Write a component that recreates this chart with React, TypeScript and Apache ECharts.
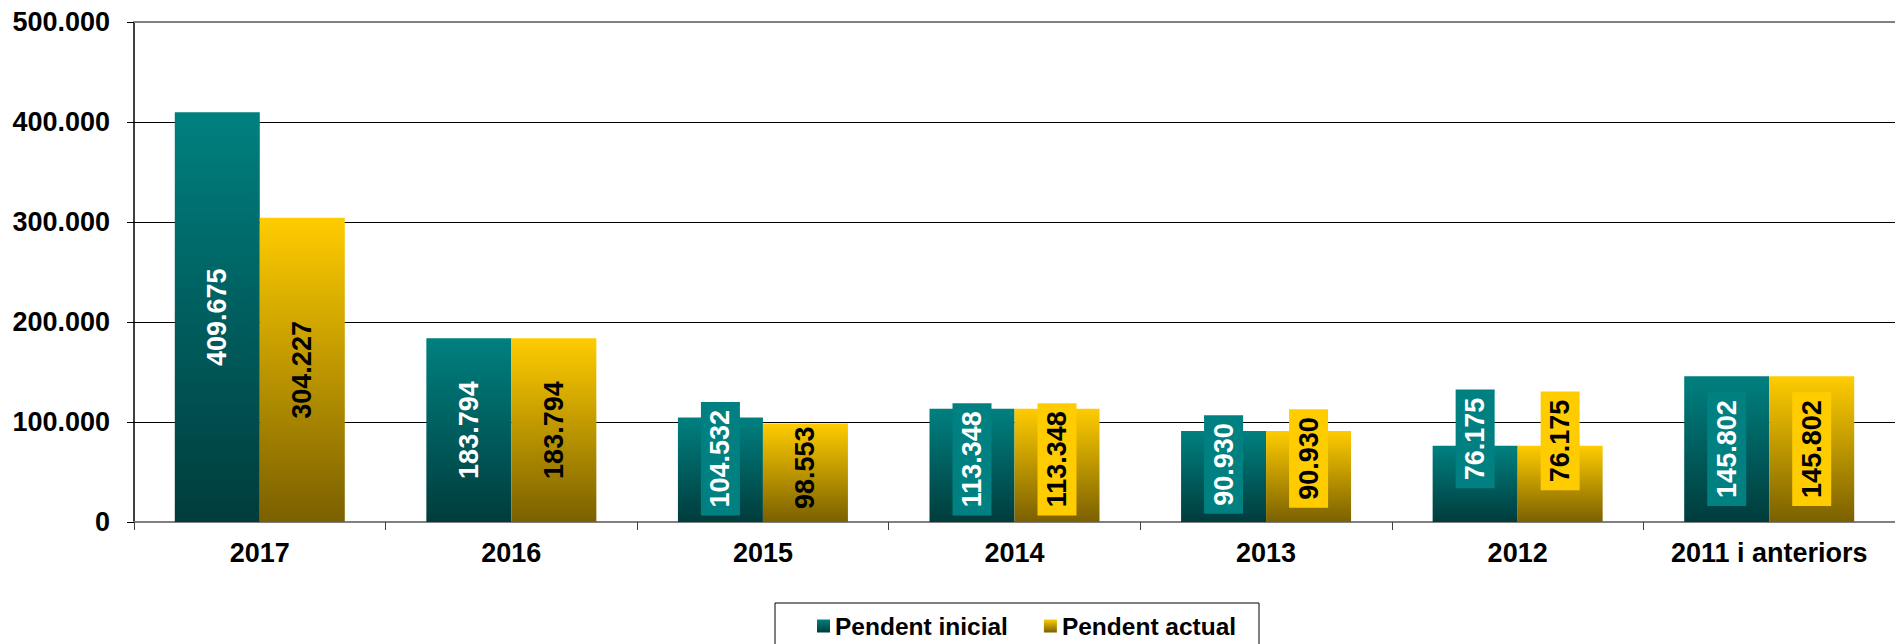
import React, { useEffect, useRef } from "react";
import * as echarts from "echarts";

const categories = ["2017", "2016", "2015", "2014", "2013", "2012", "2011 i anteriors"];
const pendentInicial = [409675, 183794, 104532, 113348, 90930, 76175, 145802];
const pendentActual = [304227, 183794, 98553, 113348, 90930, 76175, 145802];
const seriesNames = ["Pendent inicial", "Pendent actual"];
const yTicks = { min: 0, max: 500000, interval: 100000 };

// label styling (not data): which labels have a filled box, and how far (px) each label is lifted
const inicialBoxed = [false, false, true, true, true, true, true];
const actualBoxed = [false, false, false, true, true, true, true];
const inicialLift = [0, 0, 11, 6, 12, 45, 0];
const actualLift = [0, 0, 5, 6, 18, 43, 0];

const FONT = "'Liberation Sans', Arial, Helvetica, sans-serif";
const TEAL = "#008080";
const TEAL_DARK = "#003c3c";
const YELLOW = "#ffcc00";
const YELLOW_DARK = "#7a6000";

const fmt = (v: number) => String(Math.round(v)).replace(/\B(?=(\d{3})+(?!\d))/g, ".");

const grad = (a: string, b: string) =>
  new echarts.graphic.LinearGradient(0, 0, 0, 1, [
    { offset: 0, color: a },
    { offset: 1, color: b },
  ]);

export default function App() {
  const ref = useRef<HTMLDivElement>(null);
  useEffect(() => {
    if (!ref.current) return;
    const chart = echarts.init(ref.current, undefined, { renderer: "svg" });

    // label is rotated 90deg, so its local x axis points up on screen
    const mk = (vals: number[], boxed: boolean[], lift: number[], boxColor: string) =>
      vals.map((v, i) => ({
        value: v,
        label: boxed[i]
          ? { backgroundColor: boxColor, padding: [5, 8], offset: [lift[i], 0] }
          : { offset: [lift[i], 0] },
      }));

    const baseLabel = {
      show: true,
      position: "inside",
      rotate: 90,
      fontSize: 27,
      fontWeight: "bold",
      fontFamily: FONT,
      lineHeight: 29,
      formatter: (p: any) => fmt(p.value),
    };

    chart.setOption({
      animation: false,
      backgroundColor: "#ffffff",
      textStyle: { fontFamily: FONT },
      grid: { left: 134, right: -17, top: 22, bottom: 122, containLabel: false },
      legend: {
        data: seriesNames,
        left: 817,
        top: 613,
        padding: 0,
        itemWidth: 13,
        itemHeight: 13,
        itemGap: 36,
        icon: "rect",
        textStyle: { fontSize: 24.5, fontWeight: "bold", fontFamily: FONT, color: "#000", lineHeight: 26 },
      },
      graphic: [
        {
          type: "rect",
          shape: { x: 775, y: 603, width: 484, height: 80 },
          style: { fill: "none", stroke: "#000", lineWidth: 1 },
          silent: true,
        },
      ],
      xAxis: {
        type: "category",
        data: categories,
        axisLine: { show: true, lineStyle: { color: "#808080", width: 2 } },
        axisTick: { show: true, length: 8, alignWithLabel: false, lineStyle: { color: "#404040", width: 1 } },
        axisLabel: {
          interval: 0,
          margin: 16,
          fontSize: 27,
          fontWeight: "bold",
          fontFamily: FONT,
          color: "#000",
          lineHeight: 30,
        },
      },
      yAxis: {
        type: "value",
        min: yTicks.min,
        max: yTicks.max,
        interval: yTicks.interval,
        axisLine: { show: true, lineStyle: { color: "#000", width: 1.5 } },
        axisTick: { show: true, length: 7, lineStyle: { color: "#000", width: 1 } },
        splitLine: { show: true, lineStyle: { color: "#000", width: 1 } },
        axisLabel: {
          margin: 24,
          fontSize: 27,
          fontWeight: "bold",
          fontFamily: FONT,
          color: "#000",
          formatter: (v: number) => fmt(v),
        },
      },
      series: [
        {
          name: seriesNames[0],
          type: "bar",
          barWidth: 85,
          barGap: "0%",
          itemStyle: { color: grad(TEAL, TEAL_DARK) },
          label: { ...baseLabel, color: "#ffffff" },
          data: mk(pendentInicial, inicialBoxed, inicialLift, TEAL),
          markLine: {
            silent: true,
            symbol: "none",
            label: { show: false },
            lineStyle: { color: "#808080", width: 2, type: "solid" },
            data: [{ yAxis: yTicks.max }],
          },
        },
        {
          name: seriesNames[1],
          type: "bar",
          barWidth: 85,
          barGap: "0%",
          itemStyle: { color: grad(YELLOW, YELLOW_DARK) },
          label: { ...baseLabel, color: "#000000" },
          data: mk(pendentActual, actualBoxed, actualLift, YELLOW),
        },
      ],
    });
    return () => chart.dispose();
  }, []);

  return (
    <div
      ref={ref}
      style={{ position: "absolute", left: 0, top: 0, width: 1895, height: 644, overflow: "hidden" }}
    />
  );
}
